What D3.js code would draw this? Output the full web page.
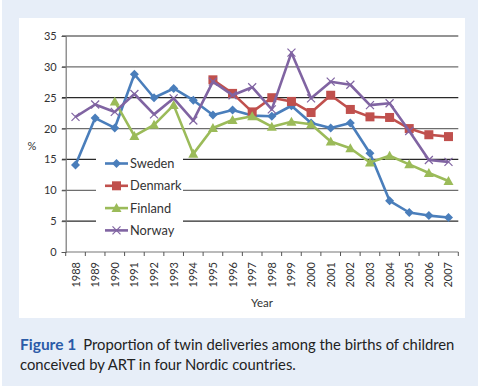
<!DOCTYPE html>
<html lang="en">
  <head>
    <meta charset="utf-8">
    <title>Twin deliveries ART</title>
    <script type="text/javascript" src="https://cdn.jsdelivr.net/npm/d3@7"></script>
    <style>
      body { margin: 0; background: #ffffff; }
      svg { display: block; font-family: Lato, "Open Sans", sans-serif; }
    </style>
  </head>
  <body>
    <script type="text/javascript">
    // years on the x axis
    var years = ["1988","1989","1990","1991","1992","1993","1994","1995","1996","1997",
                 "1998","1999","2000","2001","2002","2003","2004","2005","2006","2007"];

    // values per country, null = no data that year
    var sweden  = [14.1,21.7,20.1,28.8,25.0,26.5,24.6,22.2,23.0,22.1,22.0,23.7,20.9,20.1,20.9,16.0,8.3,6.4,5.9,5.6];
    var denmark = [null,null,null,null,null,null,null,27.9,25.7,22.7,25.0,24.4,22.6,25.4,23.1,21.9,21.8,20.0,19.0,18.7];
    var finland = [null,null,24.4,18.8,20.6,23.8,15.9,20.1,21.4,22.0,20.3,21.1,20.7,17.9,16.8,14.5,15.6,14.2,12.8,11.5];
    var norway  = [21.9,23.9,22.7,25.6,22.3,24.9,21.3,27.6,25.4,26.7,23.1,32.3,24.9,27.6,27.1,23.8,24.1,19.6,14.9,14.6];

    var yTicks = [0,5,10,15,20,25,30,35];

    var series = [
      {name: "Sweden",  values: sweden,  colour: "#4a7ebb", marker: "diamond"},
      {name: "Denmark", values: denmark, colour: "#c0504d", marker: "square"},
      {name: "Finland", values: finland, colour: "#9bbb59", marker: "triangle"},
      {name: "Norway",  values: norway,  colour: "#8064a2", marker: "cross"}
    ];

    var w = 478;
    var h = 386;

    var svg = d3.select("body")
                .append("svg")
                .attr("width", w)
                .attr("height", h);

    // page backgrounds
    svg.append("rect").attr("x", 2).attr("y", 0).attr("width", 476).attr("height", h).attr("fill", "#e7eef8");
    svg.append("rect").attr("x", 19).attr("y", 18).attr("width", 446).attr("height", 300).attr("fill", "#ffffff");

    // scales
    var x = d3.scaleBand().domain(years).range([65.7, 458.3]);
    var y = d3.scaleLinear().domain([0, 35]).range([252, 36]);

    // gridlines, alternating darker / lighter like the scan
    svg.selectAll(".grid")
       .data(yTicks.filter(function(d) { return d > 0; }))
       .enter()
       .append("line")
       .attr("x1", 62)
       .attr("x2", 458.3)
       .attr("y1", function(d) { return y(d); })
       .attr("y2", function(d) { return y(d); })
       .attr("stroke", function(d) { return (d % 10 == 5) ? "#2a2a2a" : "#6e6e6e"; })
       .attr("stroke-width", 1.2);

    // y axis
    var yAxis = d3.axisLeft(y).tickValues(yTicks).tickSize(4).tickPadding(5);
    var gy = svg.append("g").attr("transform", "translate(65.7,0)").call(yAxis);
    gy.select(".domain").attr("stroke", "#777").attr("stroke-width", 1.2);
    gy.selectAll(".tick line").attr("stroke", "#555");
    gy.selectAll("text").attr("font-size", 11).attr("fill", "#333").attr("font-family", "Lato, sans-serif");

    // x axis: ticks sit between categories
    var gx = svg.append("g").attr("transform", "translate(0,252)");
    gx.append("line").attr("x1", 65.7).attr("x2", 458.3).attr("y1", 0).attr("y2", 0)
      .attr("stroke", "#777").attr("stroke-width", 1.2);
    gx.selectAll(".xt")
      .data(years.concat(["end"]))
      .enter()
      .append("line")
      .attr("x1", function(d, i) { return 65.7 + i * x.bandwidth(); })
      .attr("x2", function(d, i) { return 65.7 + i * x.bandwidth(); })
      .attr("y1", 0)
      .attr("y2", 4)
      .attr("stroke", "#555");
    gx.selectAll(".xl")
      .data(years)
      .enter()
      .append("text")
      .attr("transform", function(d) {
        return "translate(" + (x(d) + x.bandwidth() / 2 + 4) + ",10) rotate(-90)";
      })
      .attr("text-anchor", "end")
      .attr("font-size", 11)
      .attr("fill", "#333")
      .text(function(d) { return d; });

    // axis titles
    svg.append("text").attr("x", 262).attr("y", 307).attr("text-anchor", "middle")
       .attr("font-size", 11.5).attr("fill", "#333").text("Year");
    svg.append("text").attr("x", 32).attr("y", 150).attr("text-anchor", "middle")
       .attr("font-size", 11).attr("fill", "#333").text("%");

    // markers
    var drawMarker = function(sel, kind, colour) {
      if (kind == "diamond") {
        sel.append("path").attr("d", "M0,-4.5L4.5,0L0,4.5L-4.5,0Z").attr("fill", colour);
      } else if (kind == "square") {
        sel.append("rect").attr("x", -4.5).attr("y", -4.5).attr("width", 9).attr("height", 9).attr("fill", colour);
      } else if (kind == "triangle") {
        sel.append("path").attr("d", "M0,-5L5,4L-5,4Z").attr("fill", colour);
      } else {
        sel.append("path").attr("d", "M-4,-4L4,4M-4,4L4,-4").attr("stroke", colour).attr("stroke-width", 1.2);
      }
    };

    var line = d3.line()
                 .defined(function(d) { return d != null; })
                 .x(function(d, i) { return x(years[i]) + x.bandwidth() / 2; })
                 .y(function(d) { return y(d); });

    series.forEach(function(s) {
      svg.append("path")
         .attr("d", line(s.values))
         .attr("fill", "none")
         .attr("stroke", s.colour)
         .attr("stroke-width", 2.6)
         .attr("stroke-linejoin", "round");
      s.values.forEach(function(v, i) {
        if (v == null) return;
        var g = svg.append("g")
                   .attr("transform", "translate(" + (x(years[i]) + x.bandwidth() / 2) + "," + y(v) + ")");
        drawMarker(g, s.marker, s.colour);
      });
    });

    // legend box with white background over the gridlines
    svg.append("rect").attr("x", 96).attr("y", 150).attr("width", 87).attr("height", 90).attr("fill", "#ffffff");
    series.forEach(function(s, i) {
      var ly = 163.5 + i * 22.3;
      svg.append("line").attr("x1", 105).attr("x2", 128).attr("y1", ly).attr("y2", ly)
         .attr("stroke", s.colour).attr("stroke-width", 2.6);
      var g = svg.append("g").attr("transform", "translate(116.5," + ly + ")");
      drawMarker(g, s.marker, s.colour);
      svg.append("text").attr("x", 130).attr("y", ly + 4.5)
         .attr("font-size", 12.8).attr("fill", "#333").text(s.name);
    });

    // caption
    var cap = svg.append("text").attr("x", 20).attr("y", 350).attr("font-size", 14.8).attr("fill", "#222");
    cap.append("tspan").attr("font-weight", "bold").attr("fill", "#2b5ba8").attr("font-size", 15.5).text("Figure 1");
    cap.append("tspan").attr("dx", 7).text("Proportion of twin deliveries among the births of children");
    svg.append("text").attr("x", 20).attr("y", 370).attr("font-size", 14.8).attr("fill", "#222")
       .text("conceived by ART in four Nordic countries.");
    </script>
  </body>
</html>
